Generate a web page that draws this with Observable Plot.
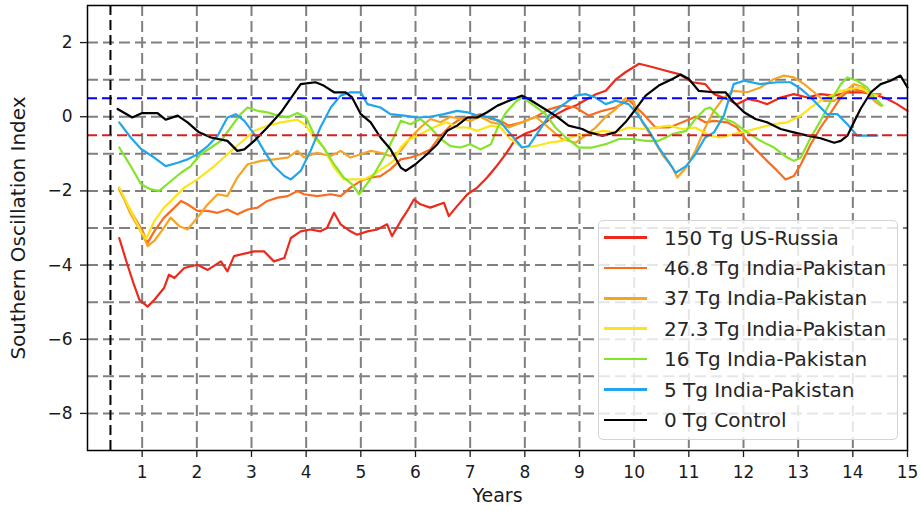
<!DOCTYPE html>
<html><head><meta charset="utf-8">
<script src="https://cdn.jsdelivr.net/npm/d3@7"></script>
<script src="https://cdn.jsdelivr.net/npm/@observablehq/plot@0.6"></script>
<style>
body{margin:0;background:#fff;font-family:"DejaVu Sans",sans-serif;}
#wrap{position:relative;width:920px;height:511px;}
#legend{position:absolute;left:598px;top:220px;width:300px;height:220px;box-sizing:border-box;background:rgba(255,255,255,0.8);border:1px solid #d4d4d4;border-radius:5px;}
.row{position:absolute;left:5px;height:26px;display:flex;align-items:center;font-size:20px;color:#262626;white-space:nowrap;}
.sw{width:43px;height:2.5px;margin-right:17px;}
</style></head>
<body><div id="wrap"></div>
<script>
const seriesNames = ["150 Tg US-Russia","46.8 Tg India-Pakistan","37 Tg India-Pakistan","27.3 Tg India-Pakistan","16 Tg India-Pakistan","5 Tg India-Pakistan","0 Tg Control"];
const seriesColors = ["#ec2a1c","#f86d1f","#f5a523","#fde31a","#84e42a","#22a5ea","#000000"];

const redYears = [0.58,0.73,0.85,0.95,1.1,1.22,1.4,1.49,1.59,1.77,2.01,2.2,2.44,2.56,2.68,2.93,3.05,3.23,3.41,3.6,3.72,3.9,4.08,4.26,4.38,4.51,4.63,4.81,4.93,5.12,5.3,5.48,5.57,5.73,5.85,5.97,6.09,6.27,6.52,6.61,6.76,6.95,7.13,7.31,7.5,7.65,7.83,8.01,8.2,8.38,8.56,8.75,8.93,9.11,9.29,9.48,9.66,9.84,10.09,10.33,10.58,10.82,11.06,11.3,11.46,11.7,11.88,12.07,12.25,12.43,12.68,12.92,13.17,13.41,13.66,13.9,14.14,14.39,14.63,14.81,15.0];
const redValues = [-3.27,-3.99,-4.53,-4.94,-5.12,-4.94,-4.62,-4.26,-4.35,-4.08,-3.99,-4.13,-3.9,-4.17,-3.76,-3.67,-3.63,-3.63,-3.9,-3.81,-3.27,-3.09,-3.04,-3.09,-3.0,-2.59,-2.9,-3.09,-3.18,-3.09,-3.04,-2.9,-3.22,-2.81,-2.54,-2.23,-2.36,-2.45,-2.32,-2.68,-2.41,-2.09,-1.91,-1.64,-1.3,-1.01,-0.6,-0.45,-0.35,-0.15,0.05,0.2,0.3,0.45,0.6,0.7,1.0,1.2,1.43,1.34,1.24,1.15,0.93,0.88,0.61,0.48,0.34,0.48,0.43,0.34,0.52,0.61,0.52,0.61,0.57,0.66,0.66,0.61,0.48,0.34,0.16];

const orangeYears = [0.58,0.79,1.01,1.1,1.22,1.4,1.59,1.71,1.83,2.01,2.2,2.38,2.56,2.74,2.93,3.11,3.29,3.48,3.66,3.84,3.96,4.2,4.45,4.63,4.81,5.0,5.18,5.36,5.54,5.73,5.91,6.09,6.27,6.46,6.64,6.82,7.01,7.19,7.38,7.56,7.71,7.95,8.2,8.44,8.68,8.93,9.17,9.42,9.66,9.9,10.15,10.39,10.64,10.88,11.12,11.3,11.46,11.7,11.88,12.07,12.25,12.43,12.62,12.77,12.92,13.05,13.23,13.41,13.6,13.78,13.97,14.14,14.33,14.51];
const orangeValues = [-1.96,-2.54,-3.09,-3.4,-3.09,-2.72,-2.45,-2.27,-2.36,-2.54,-2.54,-2.59,-2.5,-2.63,-2.5,-2.45,-2.27,-2.18,-2.14,-2.0,-2.09,-2.14,-2.09,-2.14,-1.91,-1.73,-1.64,-1.6,-1.42,-1.15,-1.1,-1.01,-0.88,-0.51,-0.24,-0.06,0.0,0.07,-0.06,-0.11,-0.24,-0.15,0.0,0.2,0.3,0.25,0.03,0.16,0.25,0.45,0.1,-0.29,-0.29,-0.15,0.0,-0.15,-0.11,-0.15,-0.29,-0.65,-0.92,-1.19,-1.46,-1.69,-1.6,-1.28,-0.74,-0.29,0.12,0.52,0.75,0.7,0.61,0.61];

const amberYears = [0.58,0.79,1.01,1.1,1.22,1.4,1.52,1.68,1.83,2.01,2.2,2.38,2.56,2.74,2.93,3.17,3.41,3.66,3.84,3.96,4.2,4.45,4.63,4.81,5.0,5.18,5.36,5.54,5.73,5.91,6.09,6.27,6.46,6.64,6.82,7.01,7.19,7.38,7.56,7.71,7.95,8.2,8.44,8.68,8.93,9.11,9.29,9.48,9.66,9.84,9.97,10.15,10.33,10.51,10.7,10.79,10.95,11.12,11.3,11.46,11.64,11.82,12.07,12.31,12.56,12.74,12.92,13.11,13.29,13.47,13.66,13.84,14.02,14.2,14.39,14.51];
const amberValues = [-1.91,-2.63,-3.18,-3.49,-3.35,-2.99,-2.72,-2.95,-3.04,-2.72,-2.36,-2.09,-2.14,-1.64,-1.28,-1.19,-1.15,-1.1,-0.92,-1.1,-0.97,-1.06,-0.92,-1.1,-1.01,-0.92,-0.97,-1.06,-0.92,-0.56,-0.29,-0.06,-0.15,0.0,-0.06,-0.11,0.0,-0.15,-0.2,-0.29,-0.15,0.0,-0.3,-0.6,-0.7,-0.5,-0.3,0.0,0.2,0.5,0.45,-0.15,-0.56,-1.01,-1.37,-1.64,-1.37,-0.92,-0.29,0.16,0.52,0.7,0.66,0.79,1.02,1.11,1.06,0.88,0.66,0.43,0.43,0.66,0.88,0.79,0.43,0.3];

const yellowYears = [0.58,0.79,0.98,1.07,1.22,1.4,1.59,1.77,2.01,2.32,2.56,2.8,3.05,3.29,3.54,3.84,4.0,4.14,4.32,4.51,4.69,4.88,5.06,5.24,5.42,5.6,5.73,5.85,6.03,6.21,6.4,6.58,6.76,6.95,7.13,7.38,7.56,7.71,7.95,8.2,8.44,8.68,8.93,9.17,9.42,9.66,9.9,10.15,10.39,10.64,10.88,11.12,11.39,11.58,11.82,12.07,12.31,12.56,12.8,13.05,13.23,13.41,13.6,13.78,13.97,14.14,14.33,14.45];
const yellowValues = [-1.91,-2.54,-3.09,-3.3,-2.82,-2.45,-2.18,-1.91,-1.69,-1.33,-1.01,-0.7,-0.38,-0.24,-0.15,-0.08,-0.24,-0.56,-0.83,-1.37,-1.69,-1.69,-1.69,-1.55,-1.37,-1.19,-0.83,-0.65,-0.51,-0.38,-0.24,-0.15,-0.29,-0.29,-0.38,-0.24,-0.29,-0.56,-0.83,-0.79,-0.7,-0.65,-0.51,-0.47,-0.38,-0.42,-0.29,-0.33,-0.29,-0.24,-0.33,-0.29,-0.51,-0.56,-0.47,-0.38,-0.29,-0.2,-0.15,0.03,0.25,0.43,0.57,0.7,0.75,0.79,0.61,0.57];

const greenYears = [0.58,0.79,0.98,1.16,1.31,1.49,1.71,1.89,2.07,2.26,2.44,2.62,2.8,2.93,3.11,3.29,3.48,3.66,3.84,4.0,4.14,4.32,4.51,4.69,4.84,4.97,5.06,5.24,5.42,5.6,5.73,5.91,6.09,6.27,6.46,6.64,6.82,7.0,7.19,7.38,7.5,7.65,7.83,7.95,8.13,8.38,8.56,8.75,8.99,9.23,9.48,9.72,9.97,10.21,10.45,10.7,10.95,11.12,11.3,11.39,11.58,11.82,12.07,12.31,12.56,12.8,12.92,13.05,13.23,13.41,13.6,13.78,13.9,14.08,14.26,14.39,14.54];
const greenValues = [-0.83,-1.33,-1.82,-1.96,-2.0,-1.78,-1.51,-1.33,-1.01,-0.83,-0.65,-0.29,0.07,0.25,0.16,0.12,0.03,-0.02,0.1,-0.02,-0.47,-0.83,-1.28,-1.64,-1.82,-2.09,-1.91,-1.55,-1.1,-0.56,-0.11,-0.2,-0.06,-0.29,-0.6,-0.79,-0.83,-0.74,-0.88,-0.74,-0.3,0.1,0.4,0.52,0.34,0.07,-0.29,-0.56,-0.83,-0.83,-0.74,-0.6,-0.6,-0.65,-0.65,-0.47,-0.38,-0.06,0.21,0.25,-0.02,-0.15,-0.42,-0.65,-0.83,-1.1,-1.19,-1.1,-0.56,-0.11,0.43,0.88,1.06,0.97,0.79,0.52,0.3];

const blueYears = [0.58,0.79,0.98,1.22,1.43,1.65,1.83,2.01,2.2,2.38,2.56,2.71,2.87,3.05,3.23,3.41,3.6,3.72,3.9,4.08,4.26,4.45,4.63,4.81,5.0,5.12,5.36,5.54,5.79,6.03,6.27,6.52,6.76,6.95,7.13,7.38,7.56,7.71,7.95,8.07,8.26,8.44,8.68,8.93,9.11,9.29,9.48,9.66,9.9,10.08,10.27,10.45,10.64,10.76,10.95,11.12,11.3,11.46,11.64,11.82,12.01,12.31,12.62,12.86,13.05,13.23,13.41,13.53,13.72,13.9,14.08,14.26,14.45];
const blueValues = [-0.15,-0.56,-0.87,-1.1,-1.33,-1.24,-1.15,-1.01,-0.79,-0.51,-0.02,0.07,-0.11,-0.47,-0.92,-1.33,-1.6,-1.69,-1.46,-0.92,-0.29,0.25,0.57,0.66,0.66,0.34,0.25,0.07,0.03,-0.02,0.0,0.07,0.16,0.12,0.03,-0.02,-0.15,-0.42,-0.83,-0.79,-0.38,0.03,0.3,0.57,0.61,0.52,0.34,0.43,0.34,0.03,-0.38,-0.83,-1.24,-1.51,-1.33,-1.01,-0.56,-0.42,0.03,0.88,0.97,0.88,0.93,0.93,0.75,0.52,0.25,0.07,0.07,-0.2,-0.51,-0.51,-0.51];

const blackYears = [0.55,0.82,1.0,1.28,1.43,1.65,1.83,2.04,2.26,2.56,2.74,2.87,3.05,3.29,3.54,3.72,3.9,4.17,4.32,4.51,4.72,4.84,5.0,5.18,5.36,5.54,5.73,5.82,6.0,6.21,6.4,6.58,6.76,6.95,7.13,7.31,7.5,7.71,7.95,8.07,8.32,8.56,8.8,9.05,9.17,9.42,9.66,9.84,10.03,10.21,10.45,10.7,10.85,11.0,11.18,11.46,11.67,11.82,12.01,12.22,12.43,12.68,12.92,13.17,13.41,13.66,13.78,13.9,14.02,14.14,14.33,14.51,14.69,14.87,15.0];
const blackValues = [0.21,-0.02,0.1,0.1,-0.08,0.03,-0.15,-0.42,-0.56,-0.65,-0.92,-0.88,-0.65,-0.29,0.12,0.5,0.88,0.93,0.84,0.66,0.66,0.52,0.07,-0.15,-0.56,-0.87,-1.37,-1.46,-1.28,-1.01,-0.74,-0.38,-0.24,-0.02,-0.02,0.12,0.3,0.43,0.57,0.48,0.25,0.03,-0.24,-0.33,-0.42,-0.51,-0.42,-0.15,0.21,0.57,0.84,1.02,1.14,1.02,0.7,0.66,0.66,0.39,0.12,-0.06,-0.15,-0.33,-0.42,-0.51,-0.58,-0.7,-0.65,-0.51,-0.15,0.21,0.66,0.88,0.97,1.11,0.79];

const xTicks = [1,2,3,4,5,6,7,8,9,10,11,12,13,14,15];
const yTicks = [-8,-6,-4,-2,0,2];
const xGrid = [1,2,3,4,5,6,7,8,9,10,11,12,13,14];
const yGrid = [-8,-7,-6,-5,-4,-3,-2,-1,0,1,2];
const upperThreshold = [0.5];
const lowerThreshold = [-0.5];
const eventYear = [0.42];

const allYears = [redYears,orangeYears,amberYears,yellowYears,greenYears,blueYears,blackYears];
const allValues = [redValues,orangeValues,amberValues,yellowValues,greenValues,blueValues,blackValues];
const data = [];
seriesNames.forEach((name,i)=>{
  allYears[i].forEach((yr,j)=>data.push({series:name, year:yr, value:allValues[i][j]}));
});

const minusFmt = d => d < 0 ? "\u2212" + Math.abs(d) : String(d);

const chart = Plot.plot({
  width: 920, height: 511,
  marginLeft: 87, marginRight: 13, marginTop: 5, marginBottom: 61,
  style: {fontFamily: "DejaVu Sans", fontSize: "17px", color: "#1a1a1a", background: "#fff"},
  x: {domain: [0, 15]},
  y: {domain: [-9, 3]},
  color: {domain: seriesNames, range: seriesColors},
  marks: [
    Plot.ruleX(xGrid, {stroke: "#808080", strokeWidth: 2, strokeDasharray: "11,5"}),
    Plot.ruleY(yGrid, {stroke: "#808080", strokeWidth: 2, strokeDasharray: "11,5"}),
    Plot.line(data, {x: "year", y: "value", z: "series", stroke: "series", strokeWidth: 2.2}),
    Plot.ruleY(upperThreshold, {stroke: "#0000ff", strokeWidth: 2, strokeDasharray: "10,5"}),
    Plot.ruleY(lowerThreshold, {stroke: "#d42020", strokeWidth: 2, strokeDasharray: "10,5"}),
    Plot.ruleX(eventYear, {stroke: "#000", strokeWidth: 2, strokeDasharray: "10,5"}),
    Plot.frame({stroke: "#000", strokeWidth: 1.5}),
    Plot.axisX(xTicks, {tickSize: 7, tickPadding: 8, label: null, strokeWidth: 1.3, tickFormat: minusFmt}),
    Plot.axisY(yTicks, {tickSize: 7, tickPadding: 8, label: null, strokeWidth: 1.3, tickFormat: minusFmt}),
    Plot.text(["Years"], {frameAnchor: "bottom", dy: 51, fontSize: 19, textAnchor: "middle"}),
    Plot.text(["Southern Oscillation Index"], {frameAnchor: "left", dx: -69, rotate: -90, fontSize: 20, textAnchor: "middle"})
  ]
});
const wrap = document.getElementById("wrap");
wrap.appendChild(chart);

const legend = document.createElement("div");
legend.id = "legend";
seriesNames.forEach((name,i)=>{
  const row = document.createElement("div");
  row.className = "row";
  row.style.top = (16.5 + i*30.4 - 13) + "px";
  const sw = document.createElement("div");
  sw.className = "sw";
  sw.style.background = seriesColors[i];
  const tx = document.createElement("span");
  tx.textContent = name;
  row.appendChild(sw); row.appendChild(tx);
  legend.appendChild(row);
});
wrap.appendChild(legend);
</script>
</body></html>
